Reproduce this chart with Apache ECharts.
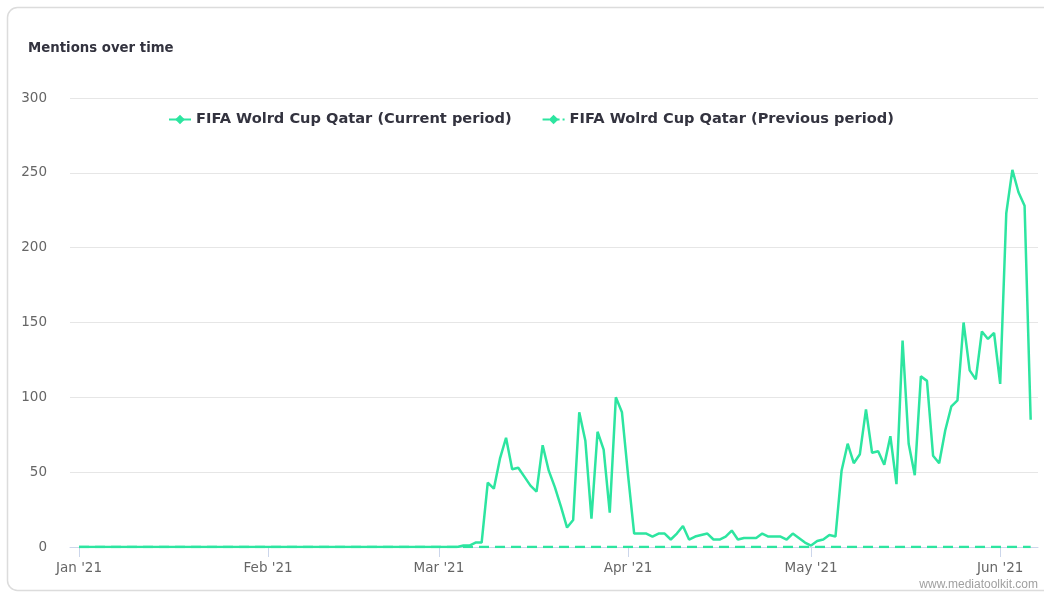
<!DOCTYPE html>
<html>
<head>
<meta charset="utf-8">
<script src="https://cdn.jsdelivr.net/npm/echarts@6/dist/echarts.min.js"></script>
<style>
  html, body { margin: 0; padding: 0; background: #ffffff; }
  #chart { width: 1044px; height: 594px; }
</style>
</head>
<body>
<div id="chart"></div>
<script>
// ---- data (daily mentions, 2021, starting 1 Jan) ----
const startDate = '2021-01-01';
const janValues = [0,0,0,0,0,0,0,0,0,0,0,0,0,0,0,0,0,0,0,0,0,0,0,0,0,0,0,0,0,0,0];
const febValues = [0,0,0,0,0,0,0,0,0,0,0,0,0,0,0,0,0,0,0,0,0,0,0,0,0,0,0,0];
const marValues = [0,0,0,0,1,1,3,3,43,39,59,73,52,53,47,41,37,68,51,40,27,13,18,90,71,19,77,65,23,100,90];
const aprValues = [48,9,9,9,7,9,9,5,9,14,5,7,8,9,5,5,7,11,5,6,6,6,9,7,7,7,5,9,6,3];
const mayValues = [1,4,5,8,7,51,69,56,62,92,63,64,55,74,42,138,69,48,114,111,61,56,78,94,98,150,118,112,144,139,143];
const junValues = [109,223,252,237,228,85];
const previousValues = [0,0,0,0,0,0,0,0,0,0,0,0,0,0,0,0,0,0,0,0,0,0,0,0,0,0,0,0,0,0,0,
  0,0,0,0,0,0,0,0,0,0,0,0,0,0,0,0,0,0,0,0,0,0,0,0,0,0,0,0,
  0,0,0,0,0,0,0,0,0,0,0,0,0,0,0,0,0,0,0,0,0,0,0,0,0,0,0,0,0,0,0,
  0,0,0,0,0,0,0,0,0,0,0,0,0,0,0,0,0,0,0,0,0,0,0,0,0,0,0,0,0,0,
  0,0,0,0,0,0,0,0,0,0,0,0,0,0,0,0,0,0,0,0,0,0,0,0,0,0,0,0,0,0,0,
  0,0,0,0,0,0];
const tickDates = ['2021-01-01','2021-02-01','2021-03-01','2021-04-01','2021-05-01','2021-06-01'];
const tickLabels = ["Jan '21","Feb '21","Mar '21","Apr '21","May '21","Jun '21"];
const yTicks = [0, 50, 100, 150, 200, 250, 300];
const seriesNames = ['FIFA Wolrd Cup Qatar (Current period)', 'FIFA Wolrd Cup Qatar (Previous period)'];
const titleText = 'Mentions over time';
const watermark = 'www.mediatoolkit.com';

// ---- build (x = days since startDate) ----
const DAY = 86400000;
const t0 = Date.parse(startDate + 'T00:00:00Z');
const currentValues = [].concat(janValues, febValues, marValues, aprValues, mayValues, junValues);
const currentData = currentValues.map((v, i) => [i, v]);
const previousData = previousValues.map((v, i) => [i, v]);
const tickValues = tickDates.map(d => Math.round((Date.parse(d + 'T00:00:00Z') - t0) / DAY));

const color = '#2de5a0';
const font = 'DejaVu Sans';
const chart = echarts.init(document.getElementById('chart'), null, { renderer: 'canvas' });
chart.setOption({
  animation: false,
  backgroundColor: '#ffffff',
  title: {
    text: titleText, left: 23, top: 37,
    textStyle: { fontFamily: font, fontSize: 13.3, fontWeight: 'bold', color: '#33333f' }
  },
  legend: {
    data: [
      { name: seriesNames[0] },
      { name: seriesNames[1], lineStyle: { type: [7, 3] } }
    ],
    left: 163, top: 107,
    itemGap: 30, itemWidth: 22, itemHeight: 12,
    textStyle: { fontFamily: font, fontSize: 14.6, fontWeight: 'bold', color: '#33333f' }
  },
  graphic: [
    { type: 'rect', shape: { x: 7.5, y: 7.5, width: 1060, height: 583, r: 10 },
      style: { fill: 'none', stroke: '#dcdcdc', lineWidth: 1.5 }, silent: true },
    { type: 'text', right: 6, top: 579,
      style: { text: watermark, fill: '#a0a0a0', font: '12px Liberation Sans' }, silent: true }
  ],
  grid: { left: 70, right: 6, top: 98, bottom: 47 },
  xAxis: {
    type: 'value',
    min: -1.48,
    max: 157.2,
    axisLine: { show: true, lineStyle: { color: '#ccd6eb', width: 1 } },
    axisTick: { show: true, length: 10, customValues: tickValues, lineStyle: { color: '#ccd6eb' } },
    axisLabel: {
      customValues: tickValues,
      margin: 14,
      color: '#666666', fontFamily: font, fontSize: 13.5,
      formatter: function (v) {
        const idx = tickValues.indexOf(Math.round(v));
        return idx >= 0 ? tickLabels[idx] : '';
      }
    },
    splitLine: { show: false }
  },
  yAxis: {
    type: 'value',
    min: yTicks[0], max: yTicks[yTicks.length - 1], interval: 50,
    axisLine: { show: false },
    axisTick: { show: false },
    axisLabel: { margin: 23, color: '#666666', fontFamily: font, fontSize: 13.5 },
    splitLine: { lineStyle: { color: '#e6e6e6', width: 1 } }
  },
  series: [
    {
      name: seriesNames[0], type: 'line', data: currentData,
      showSymbol: false, symbol: 'diamond', symbolSize: 11, z: 3,
      lineStyle: { color: color, width: 2.5 }, itemStyle: { color: color }
    },
    {
      name: seriesNames[1], type: 'line', data: previousData,
      showSymbol: false, symbol: 'diamond', symbolSize: 11, z: 2,
      lineStyle: { color: color, width: 2.5, type: [10, 6] }, itemStyle: { color: color }
    }
  ]
});
</script>
</body>
</html>
